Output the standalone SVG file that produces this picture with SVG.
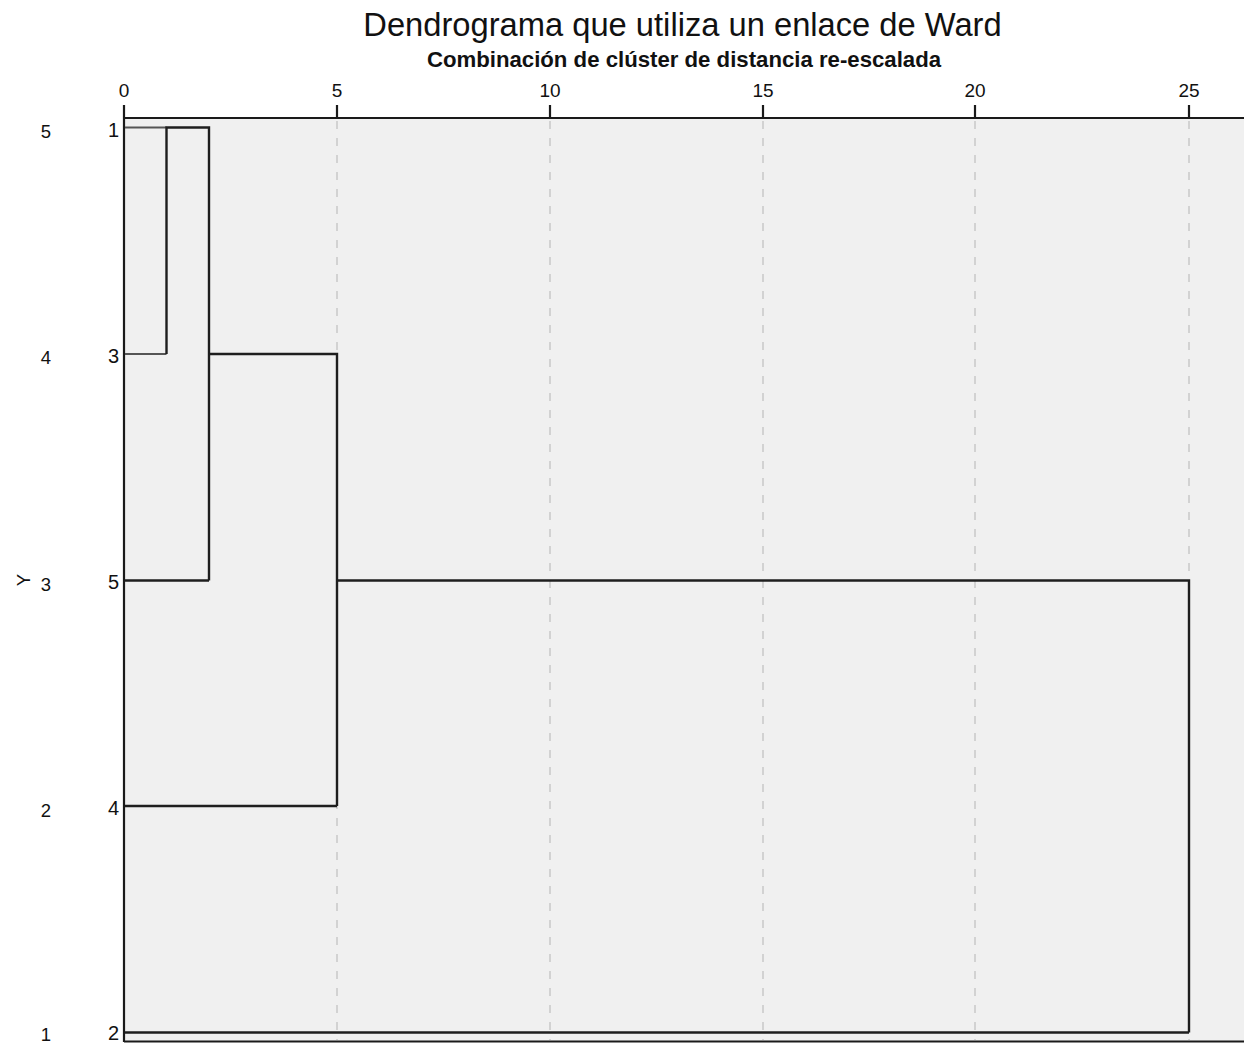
<svg xmlns="http://www.w3.org/2000/svg" width="1244" height="1043" viewBox="0 0 1244 1043">
<style>
text{font-family:"Liberation Sans",Arial,sans-serif;fill:#111}
.title{font-size:32.7px;text-anchor:middle}
.sub{font-size:22.2px;font-weight:bold;text-anchor:middle}
.tick{font-size:19px;text-anchor:middle}
.leaf{font-size:20px;text-anchor:end}
.row{font-size:18.5px;text-anchor:middle}
.grid{stroke:#d2d2d2;stroke-width:2;stroke-dasharray:8 9;fill:none}
.axis{stroke:#1a1a1a;stroke-width:2.2;fill:none}
.link{stroke:#1e1e1e;stroke-width:2.4;fill:none}
.leafline{stroke:#555;stroke-width:2.2;fill:none}
</style>
<rect x="0" y="0" width="1244" height="1043" fill="#ffffff"/>
<rect id="plot" x="124" y="118" width="1120" height="924" fill="#f0f0f0"/>
<text class="title" x="682.5" y="36">Dendrograma que utiliza un enlace de Ward</text>
<text class="sub" x="684" y="67">Combinación de clúster de distancia re-escalada</text>
<g id="grid">
<line class="grid" x1="337" y1="121" x2="337" y2="1040"/>
<line class="grid" x1="550" y1="121" x2="550" y2="1040"/>
<line class="grid" x1="763" y1="121" x2="763" y2="1040"/>
<line class="grid" x1="975" y1="121" x2="975" y2="1040"/>
<line class="grid" x1="1189" y1="121" x2="1189" y2="1040"/>
</g>
<g id="axis">
<line class="axis" x1="124" y1="118" x2="1244" y2="118"/>
<line class="axis" x1="124" y1="1041.5" x2="1244" y2="1041.5"/>
<line class="axis" x1="124" y1="105" x2="124" y2="1042" stroke-width="2.6"/>
<line class="axis" x1="337" y1="105" x2="337" y2="118"/>
<line class="axis" x1="550" y1="105" x2="550" y2="118"/>
<line class="axis" x1="763" y1="105" x2="763" y2="118"/>
<line class="axis" x1="975" y1="105" x2="975" y2="118"/>
<line class="axis" x1="1189" y1="105" x2="1189" y2="118"/>
<text class="tick" x="124" y="97">0</text>
<text class="tick" x="337" y="97">5</text>
<text class="tick" x="550" y="97">10</text>
<text class="tick" x="763" y="97">15</text>
<text class="tick" x="975" y="97">20</text>
<text class="tick" x="1189" y="97">25</text>
</g>
<g id="rows">
<text class="row" x="46" y="138">5</text>
<text class="row" x="46" y="364">4</text>
<text class="row" x="46" y="591">3</text>
<text class="row" x="46" y="817">2</text>
<text class="row" x="46" y="1041">1</text>
<text class="row" font-size="21" transform="translate(30,580) rotate(-90)">Y</text>
</g>
<g id="leaf-1"><text class="leaf" x="119" y="137">1</text></g>
<g id="leaf-3"><text class="leaf" x="119" y="363">3</text></g>
<g id="leaf-5"><text class="leaf" x="119" y="589">5</text></g>
<g id="leaf-4"><text class="leaf" x="119" y="815">4</text></g>
<g id="leaf-2"><text class="leaf" x="119" y="1040">2</text></g>
<g id="connectors">
<line class="leafline" x1="125" y1="127.5" x2="166.5" y2="127.5"/>
<line class="leafline" x1="125" y1="354" x2="166.5" y2="354"/>
<polyline class="link" points="166.5,354 166.5,127.5 209,127.5 209,580.5"/>
<line class="link" x1="125" y1="580.5" x2="209" y2="580.5"/>
<polyline class="link" points="209,354 337,354 337,806"/>
<line class="link" x1="125" y1="806" x2="337" y2="806"/>
<polyline class="link" points="337,580.5 1189,580.5 1189,1032.5"/>
<line class="link" x1="125" y1="1032.5" x2="1189" y2="1032.5"/>
</g>
</svg>
